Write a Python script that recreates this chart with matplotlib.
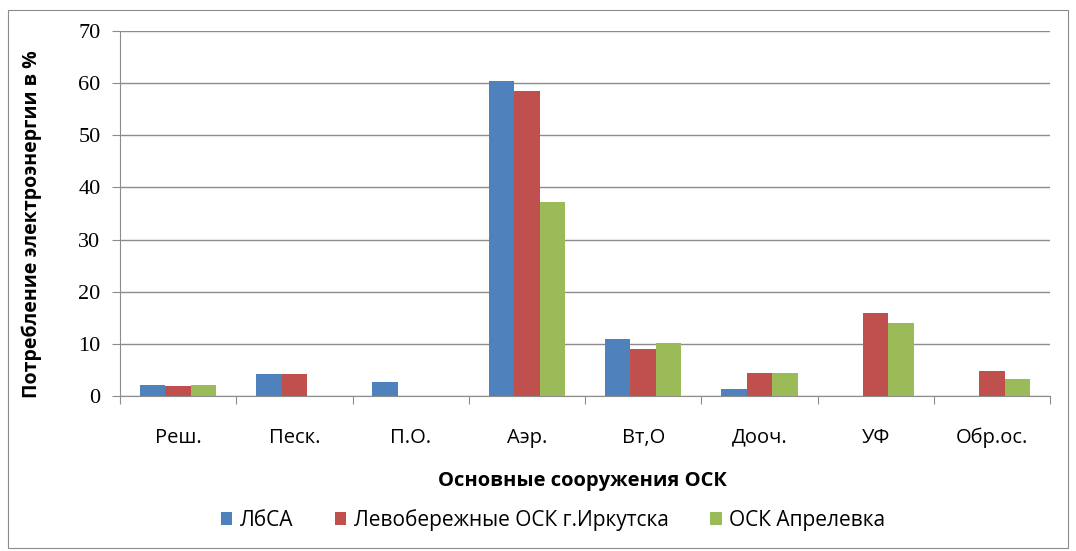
import numpy as np
import matplotlib
matplotlib.use("Agg")
import matplotlib.pyplot as plt
from matplotlib.patches import Rectangle

categories = ["Реш.", "Песк.", "П.О.", "Аэр.", "Вт,О", "Дооч.", "УФ", "Обр.ос."]
series_names = ["ЛбСА", "Левобережные ОСК г.Иркутска", "ОСК Апрелевка"]
lbsa = [2.2, 4.2, 2.7, 60.5, 11.0, 1.4, 0, 0]
irkutsk = [1.9, 4.2, 0, 58.5, 9.0, 4.4, 15.9, 4.7]
aprelevka = [2.2, 0, 0, 37.3, 10.1, 4.4, 14.0, 3.3]
colors = ["#4F81BD", "#C0504D", "#9BBB59"]

W, H = 1076, 551
fig = plt.figure(figsize=(W / 100, H / 100), dpi=100)
fig.patches.append(Rectangle((8 / W, 3 / H), 1060 / W, 538 / H, transform=fig.transFigure,
                             fill=False, edgecolor="#8c8c8c", lw=0.8))
ax = fig.add_axes([120 / W, 1 - 396 / H, 930 / W, 365 / H])

x = np.arange(len(categories))
bw = 0.22
for i, (vals, c) in enumerate(zip([lbsa, irkutsk, aprelevka], colors)):
    ax.bar(x + (i - 1) * bw, vals, width=bw, color=c, label=series_names[i], zorder=3)

ax.set_xlim(-0.5, len(categories) - 0.5)
ax.set_ylim(0, 70)
ax.set_yticks(range(0, 71, 10))
ax.yaxis.grid(True, color="#8c8c8c", lw=1.0, zorder=0)
for s in ["top", "right"]:
    ax.spines[s].set_visible(False)
for s in ["left", "bottom"]:
    ax.spines[s].set_color("#8c8c8c")
ax.tick_params(axis="y", length=6, color="#8c8c8c", pad=8)
ax.set_yticklabels([str(v) for v in range(0, 71, 10)], family="Liberation Serif", fontsize=16)

# category ticks sit on the boundaries between groups
ax.set_xticks(np.arange(-0.5, len(categories), 1.0))
ax.set_xticklabels([])
ax.tick_params(axis="x", length=6, color="#8c8c8c")
for xi, lab in zip(x, categories):
    ax.text(xi, -8, lab, ha="center", va="center", fontsize=14.5, family="Open Sans",
            color="black")

ax.set_ylabel("Потребление электроэнергии в %", fontsize=14, fontweight="bold",
              family="Open Sans")
ax.yaxis.set_label_coords(-0.084, 0.47)
fig.text(582 / W, 1 - 481 / H, "Основные сооружения ОСК", ha="center", va="center",
         fontsize=14.5, fontweight="bold", family="Open Sans")

leg = fig.legend(loc="center", bbox_to_anchor=(553 / W, 1 - 520 / H), ncol=3, frameon=False,
                 prop={"family": "Open Sans", "size": 15}, handlelength=0.55, handleheight=0.55,
                 columnspacing=2.0, handletextpad=0.35)

fig.savefig("out.png", dpi=100)
